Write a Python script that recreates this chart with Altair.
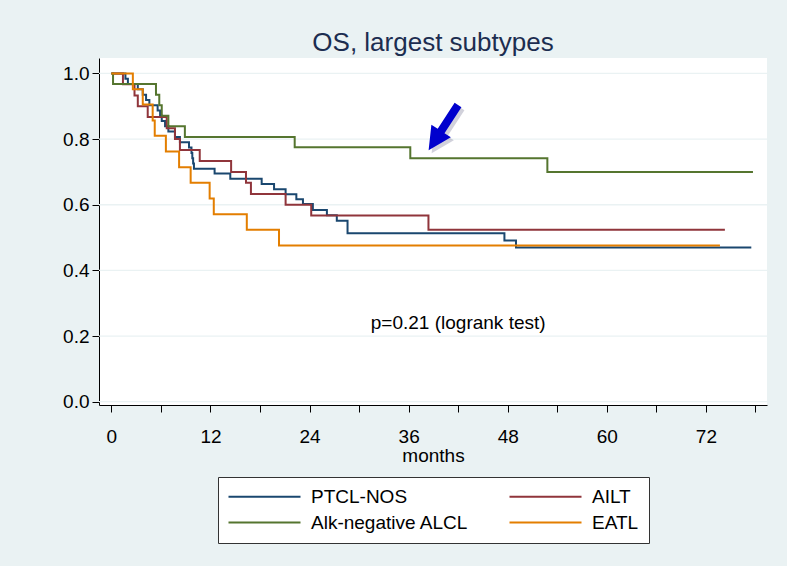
import altair as alt
import pandas as pd

# Kaplan-Meier estimates: event times (months) and survival after each step
ptcl_t = [0, 1.7, 2.0, 3.2, 3.8, 4.2, 4.6, 5.6, 5.9, 6.1, 6.5, 6.9, 7.7, 8.3, 9.4, 9.7,
          9.8, 9.9, 10.0, 12.5, 14.4, 18.2, 19.7, 21.1, 22.4, 23.2, 24.4, 26.1, 27.3,
          28.6, 47.6, 49.0]
ptcl_s = [1.0, 0.984, 0.968, 0.952, 0.935, 0.919, 0.903, 0.887, 0.871, 0.855, 0.839,
          0.823, 0.806, 0.790, 0.774, 0.758, 0.742, 0.726, 0.710, 0.695, 0.679, 0.663,
          0.647, 0.632, 0.617, 0.602, 0.584, 0.568, 0.551, 0.513, 0.491, 0.470]
ptcl_end = 77.5

ailt_t = [0, 1.4, 2.8, 3.2, 4.4, 6.7, 7.7, 8.3, 10.7, 14.5, 16.3, 16.9, 21.1, 24.2, 38.4]
ailt_s = [1.0, 0.967, 0.933, 0.900, 0.867, 0.833, 0.800, 0.767, 0.733, 0.700, 0.667,
          0.633, 0.600, 0.567, 0.524]
ailt_end = 74.3

alcl_t = [0, 0.2, 5.4, 5.8, 6.1, 6.9, 8.9, 22.2, 36.2, 52.8]
alcl_s = [1.0, 0.968, 0.935, 0.903, 0.871, 0.839, 0.806, 0.775, 0.742, 0.700]
alcl_end = 77.7

eatl_t = [0, 2.6, 3.8, 5.0, 5.25, 6.6, 8.2, 9.6, 11.9, 12.4, 16.4, 20.3]
eatl_s = [1.0, 0.952, 0.905, 0.857, 0.810, 0.762, 0.714, 0.667, 0.619, 0.571, 0.524, 0.476]
eatl_end = 73.7

subtypes = ["PTCL-NOS", "AILT", "Alk-negative ALCL", "EATL"]
colors = ["#1a476f", "#90353b", "#55752f", "#e37e00"]

x_ticks = [0, 6, 12, 18, 24, 30, 36, 42, 48, 54, 60, 66, 72, 78]
y_ticks = [0.0, 0.1, 0.2, 0.3, 0.4, 0.5, 0.6, 0.7, 0.8, 0.9, 1.0]
y_grid = [0.0, 0.2, 0.4, 0.6, 0.8, 1.0]

note_text = "p=0.21 (logrank test)"
note_x, note_y = 42, 0.24

# arrow pointing at the Alk-negative ALCL curve
arrow_x, arrow_y = 40.2, 0.835

FONT = "Liberation Sans"
BG = "#eaf2f3"

rows = []
for name, ts, ss, end in [("PTCL-NOS", ptcl_t, ptcl_s, ptcl_end),
                          ("AILT", ailt_t, ailt_s, ailt_end),
                          ("Alk-negative ALCL", alcl_t, alcl_s, alcl_end),
                          ("EATL", eatl_t, eatl_s, eatl_end)]:
    for t, s in zip(ts, ss):
        rows.append({"subtype": name, "months": t, "surv": s})
    rows.append({"subtype": name, "months": end, "surv": ss[-1]})
km = pd.DataFrame(rows)

x_scale = alt.Scale(domain=[-1.5, 79.4], nice=False, zero=False)
y_scale = alt.Scale(domain=[-0.01, 1.047], nice=False, zero=False)

x_axis = alt.Axis(values=x_ticks, title="months",
                  labelExpr="datum.value % 12 == 0 ? datum.value : ''")
y_axis = alt.Axis(values=y_ticks, title=None,
                  labelExpr="round(datum.value * 10) % 2 == 0 ? format(datum.value, '.1f') : ''")

grid = alt.Chart(pd.DataFrame({"g": y_grid})).mark_rule(
    color=BG, strokeWidth=1.3
).encode(y=alt.Y("g:Q", scale=y_scale, axis=y_axis))

# legend key: a 72px horizontal stroke starting at the left edge of the symbol slot
KEY = "M-1.8,0L12.6,0"

lines = alt.Chart(km).mark_line(interpolate="step-after", strokeWidth=2).encode(
    x=alt.X("months:Q", scale=x_scale, axis=x_axis),
    y=alt.Y("surv:Q", scale=y_scale, axis=y_axis),
    color=alt.Color("subtype:N",
                    scale=alt.Scale(domain=subtypes, range=colors),
                    legend=alt.Legend(title=None, orient="none", legendX=119, legendY=419,
                                      columns=2, direction="horizontal",
                                      symbolType=KEY, symbolSize=100,
                                      symbolStrokeWidth=1.8, labelFont=FONT,
                                      labelFontSize=19, labelColor="black",
                                      labelOffset=64, columnPadding=36, rowPadding=6,
                                      padding=10, fillColor="white", strokeColor="#333333",
                                      labelLimit=400)),
    detail="subtype:N",
    order="months:Q",
)

note = alt.Chart(pd.DataFrame({"x": [note_x], "y": [note_y], "t": [note_text]})).mark_text(
    font=FONT, fontSize=19, color="black", align="center", baseline="middle"
).encode(x=alt.X("x:Q", scale=x_scale), y=alt.Y("y:Q", scale=y_scale), text="t:N")

ARROW = "M0,-1L0.43,-0.15L0.15,-0.15L0.15,1L-0.15,1L-0.15,-0.15L-0.43,-0.15Z"
arrow_df = pd.DataFrame({"x": [arrow_x], "y": [arrow_y]})
arrow_shadow = alt.Chart(arrow_df).mark_point(
    shape=ARROW, size=2916, angle=213, filled=True, color="#7a7a99",
    opacity=0.35, xOffset=3, yOffset=3, strokeWidth=0
).encode(x=alt.X("x:Q", scale=x_scale), y=alt.Y("y:Q", scale=y_scale))
arrow = alt.Chart(arrow_df).mark_point(
    shape=ARROW, size=2916, angle=213, filled=True, color="#0000cd",
    opacity=1, strokeWidth=0
).encode(x=alt.X("x:Q", scale=x_scale), y=alt.Y("y:Q", scale=y_scale))

chart = alt.layer(grid, lines, note, arrow_shadow, arrow).properties(
    width=668, height=347,
    autosize=alt.AutoSizeParams(type="none"),
    padding={"left": 99, "top": 58, "right": 20, "bottom": 161},
    background=BG,
    title=alt.TitleParams("OS, largest subtypes", font=FONT, fontSize=26,
                          fontWeight="normal", color="#1c2d50", anchor="middle",
                          frame="group", baseline="alphabetic", offset=6, dy=25),
).configure_view(
    fill="white", stroke=None
).configure_axis(
    labelFont=FONT, labelFontSize=19, labelColor="black",
    titleFont=FONT, titleFontSize=19, titleFontWeight="normal", titleColor="black",
    domainColor="black", domainWidth=1, tickColor="black", tickSize=7, tickWidth=1,
    grid=False, titlePadding=0,
).configure_axisX(
    labelPadding=15
).configure_axisY(
    labelPadding=3
)

chart.save("out.html", embed_options={"renderer": "svg", "actions": False})
